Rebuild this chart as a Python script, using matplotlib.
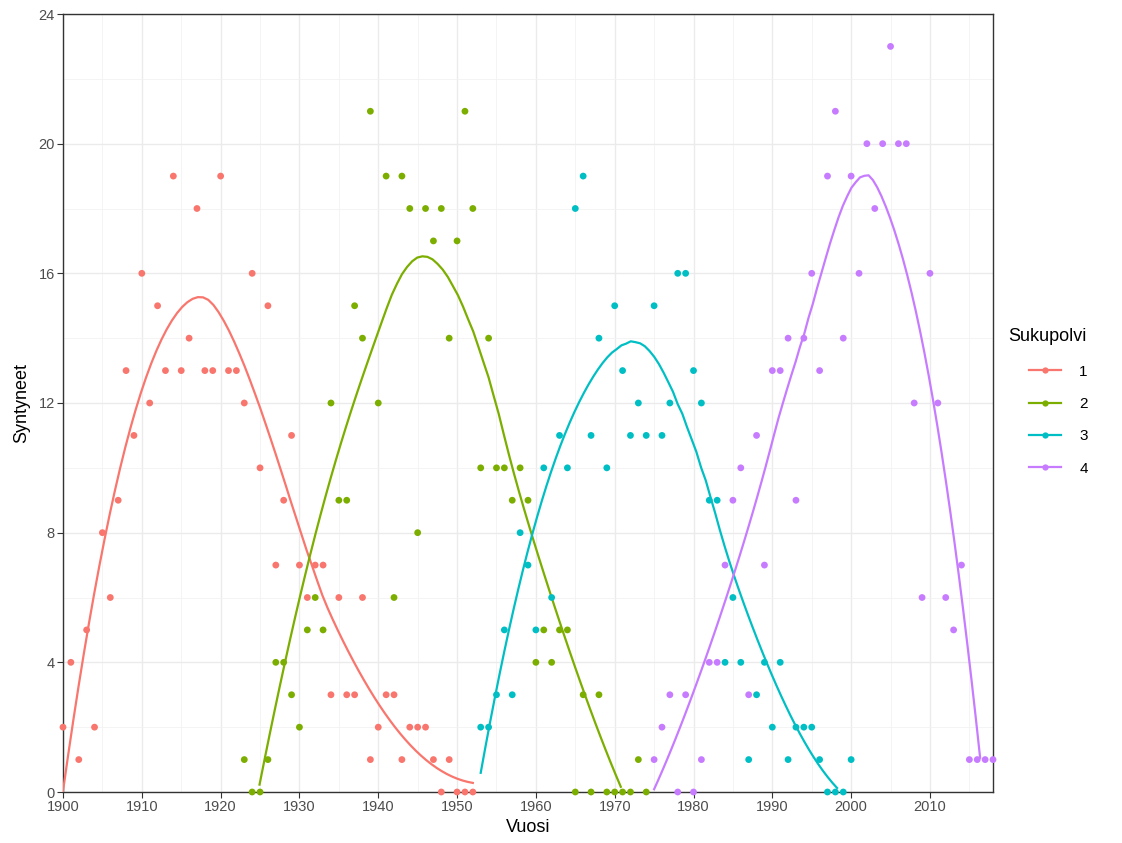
import numpy as np
import matplotlib
matplotlib.use("Agg")
import matplotlib.pyplot as plt
from matplotlib.lines import Line2D

plt.rcParams['font.family'] = ['Liberation Sans', 'DejaVu Sans']

# births per year for each generation
years1 = list(range(1900, 1953))
born1 = [2, 4, 1, 5, 2, 8, 6, 9, 13, 11, 16, 12, 15, 13, 19, 13, 14, 18, 13, 13,
         19, 13, 13, 12, 16, 10, 15, 7, 9, 11, 7, 6, 7, 7, 3, 6, 3, 3, 6, 1,
         2, 3, 3, 1, 2, 2, 2, 1, 0, 1, 0, 0, 0]

years2 = list(range(1923, 1975))
born2 = [1, 0, 0, 1, 4, 4, 3, 2, 5, 6, 5, 12, 9, 9, 15, 14, 21, 12, 19, 6,
         19, 18, 8, 18, 17, 18, 14, 17, 21, 18, 10, 14, 10, 10, 9, 10, 9, 4, 5, 4,
         5, 5, 0, 3, 0, 3, 0, 0, 0, 0, 1, 0]

years3 = list(range(1953, 2001))
born3 = [2, 2, 3, 5, 3, 8, 7, 5, 10, 6, 11, 10, 18, 19, 11, 14, 10, 15, 13, 11,
         12, 11, 15, 11, 12, 16, 16, 13, 12, 9, 9, 4, 6, 4, 1, 3, 4, 2, 4, 1,
         2, 2, 2, 1, 0, 0, 0, 1]

years4 = list(range(1975, 2019))
born4 = [1, 2, 3, 0, 3, 0, 1, 4, 4, 7, 9, 10, 3, 11, 7, 13, 13, 14, 9, 14,
         16, 13, 19, 21, 14, 19, 16, 20, 18, 20, 23, 20, 20, 12, 6, 16, 12, 6, 5, 7,
         1, 1, 1, 1]

groups = ['1', '2', '3', '4']
colors = ['#F8766D', '#7CAE00', '#00BFC4', '#C77CFF']


def loess(x, y, xs, span=0.75):
    # local quadratic fit with tricube weights (like R loess defaults)
    x = np.asarray(x, float)
    y = np.asarray(y, float)
    q = int(np.floor(len(x) * span))
    out = []
    for x0 in xs:
        d = np.abs(x - x0)
        h = np.sort(d)[q - 1]
        w = np.clip(1 - (d / h) ** 3, 0, None) ** 3
        A = np.vstack([np.ones_like(x), x - x0, (x - x0) ** 2]).T
        W = np.sqrt(w)
        coef = np.linalg.lstsq(A * W[:, None], y * W, rcond=None)[0]
        out.append(coef[0])
    return np.array(out)


fig = plt.figure(figsize=(11.22, 8.43), dpi=100)
ax = fig.add_axes([63 / 1122, 1 - 792 / 843, 930 / 1122, 778 / 843])

data = [(years1, born1), (years2, born2), (years3, born3), (years4, born4)]
for (yrs, b), c in zip(data, colors):
    xs = np.linspace(min(yrs), max(yrs), 80)
    fit = loess(yrs, b, xs)
    fit[fit < 0] = np.nan   # values outside the y scale are dropped
    ax.plot(xs, fit, color=c, lw=1.6, zorder=3)
    ax.scatter(yrs, b, s=24, color=c, edgecolors='none', zorder=4, clip_on=False)

ax.set_xlim(1900, 2018)
ax.set_ylim(0, 24)
ax.set_xticks(range(1900, 2011, 10))
ax.set_xticks(range(1905, 2018, 10), minor=True)
ax.set_yticks(range(0, 25, 4))
ax.set_yticks(range(2, 24, 4), minor=True)

ax.grid(which='major', color='#EBEBEB', lw=1.0)
ax.grid(which='minor', color='#F2F2F2', lw=0.6)
ax.set_axisbelow(True)
for s in ax.spines.values():
    s.set_color('#333333')
    s.set_linewidth(1.0)
ax.tick_params(which='major', length=4, color='#333333', labelsize=10.5,
               labelcolor='#4D4D4D', pad=2)
ax.tick_params(which='minor', length=0)

ax.set_xlabel('Vuosi', fontsize=13, labelpad=3)
ax.set_ylabel('Syntyneet', fontsize=13, labelpad=6)

# legend: title on its own, keys indented below it
fig.text(1008 / 1122, 1 - 336 / 843, 'Sukupolvi', fontsize=13, va='center', ha='left')
handles = [Line2D([], [], color=c, lw=1.6, marker='o', ms=4.5, markeredgewidth=0)
           for c in colors]
leg = fig.legend(handles, groups, loc='upper left',
                 bbox_to_anchor=(1015 / 1122, 1 - 351 / 843), frameon=False,
                 fontsize=11, handlelength=2.1, handletextpad=1.2,
                 labelspacing=1.2)

fig.savefig('out.png', dpi=100)
